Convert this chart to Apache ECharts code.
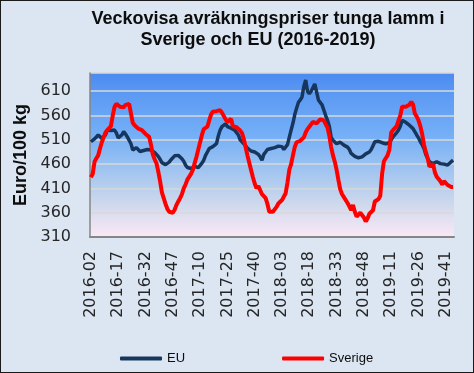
<!DOCTYPE html>
<html><head><meta charset="utf-8">
<script src="https://cdn.jsdelivr.net/npm/echarts@6/dist/echarts.min.js"></script>
<style>
html,body{margin:0;padding:0;background:#dce6f2;}
#c{width:474px;height:373px;position:absolute;left:0;top:0;}
#b{position:absolute;left:0;top:0;width:474px;height:373px;box-sizing:border-box;border:1px solid #1a1a1a;pointer-events:none;}
</style>
</head><body><div id="c"></div><div id="b"></div>
<script>
// Week categories: [year, first week, last week]
const weekSpans = [[2016, 2, 52], [2017, 1, 52], [2018, 1, 52], [2019, 1, 45]];
const weeks = [];
weekSpans.forEach(([y, a, b]) => { for (let w = a; w <= b; w++) weeks.push(y + '-' + String(w).padStart(2, '0')); });

const seriesNames = ['EU', 'Sverige'];

const eu = [
  506,509,512,516,520,517,513,515,520,530,533,529,527,530,524,514,512,520,527,522,516,512,502,489,485,494,494,486,482,488,492,490,489,
  489,486,484,480,476,470,463,461,459,460,464,469,472,477,478,478,475,471,466,458,453,451,451,453,455,451,453,457,462,468,478,485,492,
  492,496,497,502,518,530,537,541,543,537,533,534,531,530,528,520,510,506,502,498,493,490,487,485,485,483,480,475,468,480,485,490,492,
  492,493,494,495,497,499,496,490,492,500,515,530,544,562,575,587,592,598,620,633,610,605,610,612,625,629,592,589,582,578,560,550,538,
  515,509,508,502,500,505,503,499,499,495,490,482,478,476,475,473,472,475,478,481,483,485,490,498,506,508,507,506,504,503,502,501,
  504,510,516,520,525,530,538,550,550,546,542,540,542,533,530,520,514,506,500,492,480,472,465,461,461,465,465,462,461,463,460,459,458,461,465,468
];

const sverige = [
  433,440,465,472,478,492,505,515,525,530,532,538,560,578,584,583,578,576,577,582,586,584,580,545,540,537,533,530,530,527,522,520,516,
  500,480,470,462,445,425,402,390,378,368,362,360,360,366,376,383,390,398,410,418,428,432,440,448,462,475,490,505,520,532,535,537,550,
  562,568,568,569,570,571,566,562,552,547,546,553,538,537,536,533,529,524,512,495,478,463,448,433,420,410,415,416,398,396,390,378,362,
  360,362,366,372,379,382,386,390,400,422,448,460,478,495,505,502,508,510,515,525,532,537,540,547,546,544,547,552,556,550,542,535,518,
  495,478,465,448,427,408,398,392,388,380,373,365,376,362,352,350,360,358,350,342,348,358,359,365,383,383,388,395,440,466,472,478,
  490,525,530,526,538,550,560,578,581,578,579,582,588,583,564,558,550,538,522,500,485,473,455,451,460,443,434,430,425,418,425,428,417,420,413,413
];

const yMin = 310, yMax = 647.5, yStep = 50;

const chart = echarts.init(document.getElementById('c'), null, {renderer: 'canvas'});
chart.setOption({
  animation: false,
  backgroundColor: '#dce6f2',
  graphic: [
    {type: 'text', x: 268, y: 10, style: {text: 'Veckovisa avräkningspriser tunga lamm i', font: 'bold 18px "Liberation Sans"', fill: '#0d0d0d', align: 'center'}},
    {type: 'text', x: 258, y: 31, style: {text: 'Sverige och EU (2016-2019)', font: 'bold 18px "Liberation Sans"', fill: '#0d0d0d', align: 'center'}}
  ],
  grid: {
    left: 90, right: 20, top: 73, bottom: 136, show: true, borderWidth: 0,
    backgroundColor: new echarts.graphic.LinearGradient(0, 0, 0, 1, [
      {offset: 0, color: '#4b8bef'},
      {offset: 0.15, color: '#5e9cf4'},
      {offset: 0.38, color: '#75aff7'},
      {offset: 0.58, color: '#9dc3f0'},
      {offset: 0.78, color: '#cad7ec'},
      {offset: 1, color: '#fbe8f5'}
    ])
  },
  legend: {
    left: 115, top: 347, itemWidth: 42, itemHeight: 4, itemGap: 97, icon: 'roundRect',
    textStyle: {fontFamily: 'Liberation Sans', fontSize: 13, color: '#0d0d0d'},
    data: seriesNames
  },
  xAxis: {
    type: 'category', data: weeks, boundaryGap: true,
    axisLine: {show: true, lineStyle: {color: '#868686', width: 2}},
    axisTick: {show: false},
    axisLabel: {interval: 14, rotate: 90, margin: 14, fontFamily: 'DejaVu Sans', fontSize: 16, color: '#262626'},
    splitLine: {show: false}
  },
  yAxis: {
    type: 'value', min: yMin, max: yMax, interval: yStep,
    axisLine: {show: true, lineStyle: {color: '#868686', width: 1.5}},
    axisTick: {show: false},
    axisLabel: {margin: 19, fontFamily: 'DejaVu Sans', fontSize: 16, color: '#262626', showMaxLabel: false,
      formatter: v => ((v - yMin) % yStep === 0 ? String(v) : '')},
    splitLine: {lineStyle: {color: '#d9d9d9', width: 1.5}},
    name: 'Euro/100 kg', nameLocation: 'middle', nameGap: 56,
    nameTextStyle: {fontFamily: 'Liberation Sans', fontWeight: 'bold', fontSize: 18, color: '#0d0d0d'}
  },
  series: [
    {name: seriesNames[0], type: 'line', data: eu, symbol: 'none', lineStyle: {color: '#17365d', width: 3.5}, itemStyle: {color: '#17365d'}},
    {name: seriesNames[1], type: 'line', data: sverige, symbol: 'none', lineStyle: {color: '#ff0000', width: 4}, itemStyle: {color: '#ff0000'}}
  ]
});
</script></body></html>
